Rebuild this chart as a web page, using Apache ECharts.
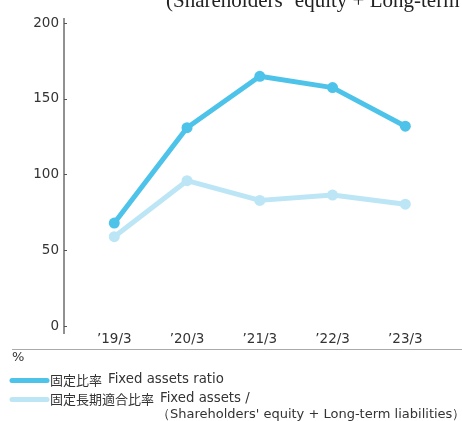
<!DOCTYPE html>
<html><head><meta charset="utf-8">
<script src="https://cdn.jsdelivr.net/npm/echarts@6/dist/echarts.min.js"></script>
<style>html,body{margin:0;padding:0;background:#fff}#c{width:462px;height:421px}</style>
</head><body><div id="c"></div>
<script>
const categories = ["’19/3", "’20/3", "’21/3", "’22/3", "’23/3"];
const fixedAssetsRatio = [68, 131, 165, 157.5, 132];
const fixedLongTermRatio = [59, 96, 83, 86.5, 80.5];
const yTicks = [0, 50, 100, 150, 200];
const legendNames = ["固定比率", "固定長期適合比率"];
const legendEn = ["Fixed assets ratio", "Fixed assets /", "（Shareholders' equity + Long-term liabilities）"];
const titleText = "(Shareholders’ equity + Long-term";

const DARK = "#4ec3ea", LIGHT = "#bce6f6";
const SANS = '"DejaVu Sans", sans-serif';
const CJK = '"Noto Sans CJK JP", sans-serif';
const chart = echarts.init(document.getElementById('c'));
chart.setOption({
  animation: false,
  grid: { left: 77.9, right: 20.3, top: 23.3, bottom: 95 },
  xAxis: {
    type: 'category', data: categories, boundaryGap: true,
    axisLine: { show: false }, axisTick: { show: false },
    axisLabel: { margin: 6.5, color: '#333', fontSize: 13.5, fontFamily: SANS }
  },
  yAxis: {
    type: 'value', min: yTicks[0], max: yTicks[yTicks.length - 1], interval: yTicks[1] - yTicks[0],
    offset: 13.9,
    axisLine: { show: false },
    axisTick: { show: true, inside: true, length: 3, lineStyle: { color: '#555' } },
    splitLine: { show: false },
    axisLabel: { margin: 5, color: '#333', fontSize: 13.5, fontFamily: SANS }
  },
  series: [
    { name: legendNames[1], type: 'line', data: fixedLongTermRatio, symbol: 'circle', symbolSize: 11,
      lineStyle: { width: 5, color: LIGHT }, itemStyle: { color: LIGHT }, z: 2 },
    { name: legendNames[0], type: 'line', data: fixedAssetsRatio, symbol: 'circle', symbolSize: 11,
      lineStyle: { width: 5, color: DARK }, itemStyle: { color: DARK }, z: 3 }
  ],
  graphic: [
    { type: 'text', x: 166, y: 1.5, style: { text: titleText, font: '21px "Liberation Serif", serif', fill: '#222', textVerticalAlign: 'middle', verticalAlign: 'middle' } },
    { type: 'line', shape: { x1: 64, y1: 18, x2: 64, y2: 334 }, style: { stroke: '#222', lineWidth: 1 } },
    { type: 'line', shape: { x1: 12, y1: 349.5, x2: 462, y2: 349.5 }, style: { stroke: '#aaa', lineWidth: 1 } },
    { type: 'text', x: 12, y: 358, style: { text: '%', font: '13px ' + SANS, fill: '#333', textVerticalAlign: 'middle', verticalAlign: 'middle' } },
    { type: 'line', shape: { x1: 12, y1: 380.5, x2: 47, y2: 380.5 }, style: { stroke: DARK, lineWidth: 5, lineCap: 'round' } },
    { type: 'line', shape: { x1: 12, y1: 399.5, x2: 47, y2: 399.5 }, style: { stroke: LIGHT, lineWidth: 5, lineCap: 'round' } },
    { type: 'text', x: 50, y: 380, style: { text: legendNames[0], font: '13px ' + CJK, fill: '#333', textVerticalAlign: 'middle', verticalAlign: 'middle' } },
    { type: 'text', x: 108, y: 380, style: { text: legendEn[0], font: '13.3px ' + SANS, fill: '#333', textVerticalAlign: 'middle', verticalAlign: 'middle' } },
    { type: 'text', x: 50, y: 399, style: { text: legendNames[1], font: '13px ' + CJK, fill: '#333', textVerticalAlign: 'middle', verticalAlign: 'middle' } },
    { type: 'text', x: 160, y: 399, style: { text: legendEn[1], font: '13.3px ' + SANS, fill: '#333', textVerticalAlign: 'middle', verticalAlign: 'middle' } },
    { type: 'text', x: 157, y: 414.5, style: { text: legendEn[2], font: '13px ' + SANS, fill: '#333', textVerticalAlign: 'middle', verticalAlign: 'middle' } }
  ]
});
</script></body></html>
